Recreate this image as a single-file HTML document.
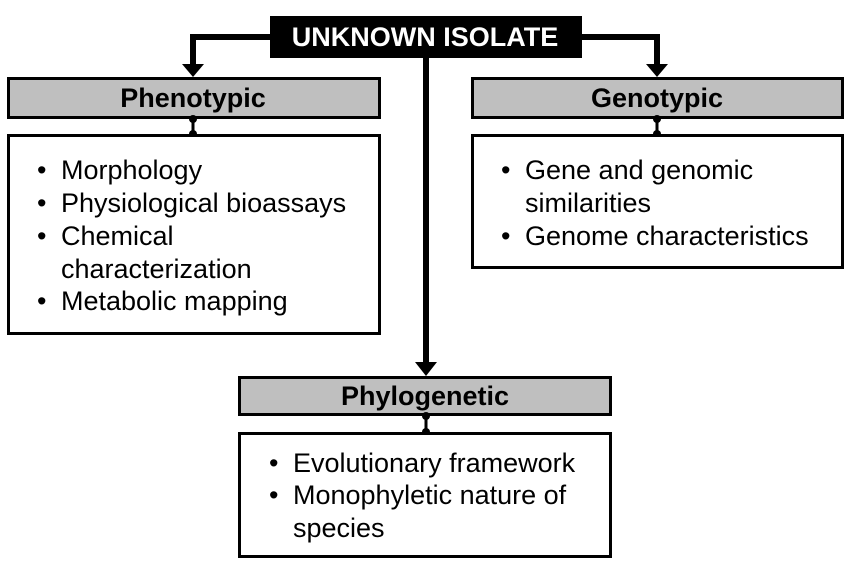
<!DOCTYPE html>
<html><head><meta charset="utf-8"><style>
html,body{margin:0;padding:0;background:#fff;}
svg{display:block;}
text{font-family:"Liberation Sans",Arial,sans-serif;}
</style></head><body>
<svg width="851" height="568" viewBox="0 0 851 568" xmlns="http://www.w3.org/2000/svg">
<polyline points="270,37 193,37 193,66" fill="none" stroke="#000" stroke-width="6"/>
<polygon points="182,64 204,64 193,77" fill="#000"/>
<polyline points="582,37 657,37 657,66" fill="none" stroke="#000" stroke-width="6"/>
<polygon points="646,64 668,64 657,77" fill="#000"/>
<line x1="426" y1="56" x2="426" y2="364" stroke="#000" stroke-width="6"/>
<polygon points="415,362 437,362 426,376" fill="#000"/>
<rect x="270" y="16" width="312" height="42" fill="#000"/>
<text x="425" y="46" text-anchor="middle" font-size="27" font-weight="bold" fill="#fff">UNKNOWN ISOLATE</text>
<rect x="8.5" y="78.5" width="371" height="39" fill="#bfbfbf" stroke="#000" stroke-width="3"/>
<text x="193" y="107" text-anchor="middle" font-size="27" font-weight="bold">Phenotypic</text>
<line x1="193" y1="118" x2="193" y2="134" stroke="#000" stroke-width="3"/>
<circle cx="193" cy="119" r="4"/><circle cx="193" cy="134" r="4"/>
<rect x="8.5" y="135.5" width="371" height="198" fill="#fff" stroke="#000" stroke-width="3"/>
<g font-size="27">
<text x="37" y="179">•</text><text x="61" y="179">Morphology</text>
<text x="37" y="212">•</text><text x="61" y="212">Physiological bioassays</text>
<text x="37" y="245">•</text><text x="61" y="245">Chemical</text>
<text x="61" y="278">characterization</text>
<text x="37" y="310">•</text><text x="61" y="310">Metabolic mapping</text>
</g>
<rect x="472.5" y="78.5" width="370" height="39" fill="#bfbfbf" stroke="#000" stroke-width="3"/>
<text x="657" y="107" text-anchor="middle" font-size="27" font-weight="bold">Genotypic</text>
<line x1="657" y1="118" x2="657" y2="134" stroke="#000" stroke-width="3"/>
<circle cx="657" cy="119" r="4"/><circle cx="657" cy="134" r="4"/>
<rect x="472.5" y="135.5" width="370" height="132" fill="#fff" stroke="#000" stroke-width="3"/>
<g font-size="27">
<text x="501" y="179">•</text><text x="525" y="179">Gene and genomic</text>
<text x="525" y="212">similarities</text>
<text x="501" y="245">•</text><text x="525" y="245">Genome characteristics</text>
</g>
<rect x="239.5" y="377.5" width="371" height="37" fill="#bfbfbf" stroke="#000" stroke-width="3"/>
<text x="425" y="405" text-anchor="middle" font-size="27" font-weight="bold">Phylogenetic</text>
<line x1="426" y1="415" x2="426" y2="432" stroke="#000" stroke-width="3"/>
<circle cx="426" cy="416" r="4"/><circle cx="426" cy="432" r="4"/>
<rect x="239.5" y="433.5" width="371" height="123" fill="#fff" stroke="#000" stroke-width="3"/>
<g font-size="27">
<text x="269" y="472">•</text><text x="293" y="472">Evolutionary framework</text>
<text x="269" y="504">•</text><text x="293" y="504">Monophyletic nature of</text>
<text x="293" y="537">species</text>
</g>
</svg>
</body></html>
